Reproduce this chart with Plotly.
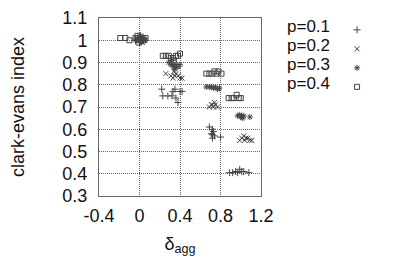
import plotly.graph_objects as go

# p=0.1 (plus)
p1_x = [-0.04, -0.02, 0.0, 0.02, 0.04, 0.01,
        0.22, 0.23, 0.28, 0.32, 0.33, 0.35, 0.36, 0.38, 0.40, 0.42,
        0.69, 0.71, 0.72, 0.72, 0.73, 0.74, 0.72, 0.80,
        0.89, 0.92, 0.95, 0.97, 0.99, 1.01, 1.03, 1.08]
p1_y = [1.00, 1.01, 0.99, 1.00, 1.01, 1.02,
        0.78, 0.75, 0.75, 0.75, 0.77, 0.78, 0.74, 0.72, 0.77, 0.77,
        0.61, 0.58, 0.60, 0.56, 0.59, 0.57, 0.575, 0.565,
        0.405, 0.405, 0.41, 0.405, 0.42, 0.41, 0.41, 0.405]

# p=0.2 (x)
p2_x = [-0.03, -0.01, 0.01, 0.03, 0.05, 0.0,
        0.26, 0.31, 0.33, 0.35, 0.36, 0.38, 0.40, 0.42, 0.34,
        0.69, 0.71, 0.72, 0.73, 0.74, 0.75, 0.77,
        0.99, 1.01, 1.03, 1.05, 1.07, 1.09, 1.11, 1.04]
p2_y = [1.01, 1.00, 1.02, 0.99, 1.00, 1.01,
        0.85, 0.84, 0.83, 0.84, 0.85, 0.84, 0.83, 0.83, 0.86,
        0.70, 0.71, 0.71, 0.70, 0.72, 0.71, 0.70,
        0.55, 0.56, 0.57, 0.56, 0.56, 0.55, 0.55, 0.55]

# p=0.3 (asterisk)
p3_x = [-0.04, -0.02, 0.0, 0.02, 0.04, 0.06, 0.01,
        0.29, 0.31, 0.33, 0.34, 0.35, 0.36, 0.38, 0.40, 0.32,
        0.66, 0.69, 0.71, 0.73, 0.75, 0.77, 0.79,
        0.97, 0.99, 1.00, 1.01, 1.02, 1.03, 1.09]
p3_y = [1.00, 1.01, 1.00, 0.99, 1.01, 1.00, 1.02,
        0.90, 0.89, 0.89, 0.88, 0.87, 0.89, 0.88, 0.89, 0.91,
        0.79, 0.79, 0.79, 0.785, 0.79, 0.78, 0.785,
        0.66, 0.665, 0.655, 0.66, 0.65, 0.66, 0.655]

# p=0.4 (square)
p4_x = [-0.19, -0.14, -0.10, -0.04, -0.02, 0.0, 0.02, 0.04, 0.06, -0.01,
        0.23, 0.26, 0.29, 0.31, 0.33, 0.36, 0.38, 0.40, 0.34,
        0.66, 0.69, 0.72, 0.74, 0.76, 0.78, 0.81,
        0.88, 0.91, 0.93, 0.96, 0.98, 1.00]
p4_y = [1.01, 1.01, 1.00, 1.01, 1.02, 1.00, 1.01, 1.00, 1.01, 0.99,
        0.93, 0.93, 0.93, 0.92, 0.92, 0.93, 0.93, 0.94, 0.91,
        0.85, 0.85, 0.85, 0.86, 0.85, 0.86, 0.85,
        0.74, 0.74, 0.74, 0.755, 0.74, 0.74]

series_names = ["p=0.1", "p=0.2", "p=0.3", "p=0.4"]
series_x = [p1_x, p2_x, p3_x, p4_x]
series_y = [p1_y, p2_y, p3_y, p4_y]
series_symbols = ["cross-thin-open", "x-thin-open", "asterisk-open", "square-open"]

x_ticks = [-0.4, 0, 0.4, 0.8, 1.2]
x_tick_labels = ["-0.4", "0", "0.4", "0.8", "1.2"]
y_ticks = [0.3, 0.4, 0.5, 0.6, 0.7, 0.8, 0.9, 1.0, 1.1]
y_tick_labels = ["0.3", "0.4", "0.5", "0.6", "0.7", "0.8", "0.9", "1", "1.1"]

# figure is drawn inside the page's 8px body margin
W, H = 385, 252
L, R, T, B = 91, 113, 7, 64
plot_w = W - L - R
plot_h = H - T - B

fig = go.Figure()
for name, xs, ys, sym in zip(series_names, series_x, series_y, series_symbols):
    fig.add_trace(go.Scatter(
        x=xs, y=ys, mode="markers", name=" ",
        legendgroup=name,
        marker=dict(symbol=sym, size=5, color="#444444",
                    line=dict(color="#444444", width=1)),
    ))

# legend labels (text left of the symbols, gnuplot style)
label_rows_px = [15.5, 35, 54.5, 74]
for name, row in zip(series_names, label_rows_px):
    fig.add_annotation(
        x=(299 - L) / plot_w, y=(H - B - row) / plot_h,
        xref="paper", yref="paper", xanchor="left", yanchor="middle",
        text=name, showarrow=False,
        font=dict(size=17, color="#111111"),
    )

font_family = "Liberation Sans, Arial, sans-serif"
grid_col = "#666666"
fig.update_layout(
    width=W, height=H,
    margin=dict(l=L, r=R, t=T, b=B),
    paper_bgcolor="white", plot_bgcolor="white",
    font=dict(family=font_family, size=18, color="#111111"),
    showlegend=True,
    legend=dict(x=(357 - L) / plot_w, y=1.015, xanchor="left", yanchor="top",
                font=dict(size=11, color="#111111"),
                tracegroupgap=0, itemwidth=30,
                bgcolor="rgba(0,0,0,0)"),
    xaxis=dict(
        range=[-0.4, 1.2], tickvals=x_ticks, ticktext=x_tick_labels,
        showgrid=True, gridcolor=grid_col, griddash="1px,1px", gridwidth=1,
        zeroline=False, showline=True, linecolor=grid_col, mirror=True,
        ticks="", ticklabelstandoff=3, automargin=False,
        ticklabeloverflow="allow",
        title=dict(text="δ<sub>agg</sub>", font=dict(size=18), standoff=12),
    ),
    yaxis=dict(
        range=[0.3, 1.1], tickvals=y_ticks, ticktext=y_tick_labels,
        showgrid=True, gridcolor=grid_col, griddash="1px,1px", gridwidth=1,
        zeroline=False, showline=True, linecolor=grid_col, mirror=True,
        ticks="", ticklabelstandoff=7, automargin=False,
        ticklabeloverflow="allow",
        title=dict(text="clark-evans index", font=dict(size=18), standoff=35),
    ),
)

fig.write_html("out.html")
